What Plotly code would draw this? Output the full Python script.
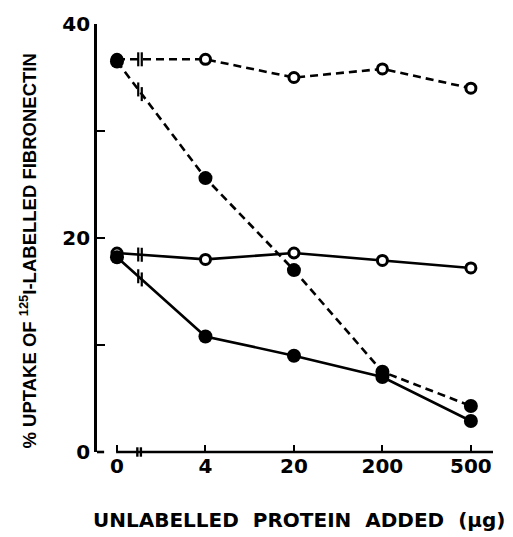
import plotly.graph_objects as go

# ---- data ----
categories = ["0", "4", "20", "200", "500"]
ctrl_open_dashed = [36.7, 36.7, 35.0, 35.8, 34.0]
test_filled_dashed = [36.5, 25.6, 17.0, 7.5, 4.3]
ctrl_open_solid = [18.6, 18.0, 18.6, 17.9, 17.2]
test_filled_solid = [18.2, 10.8, 9.0, 7.0, 2.9]
y_tickvals = [0, 20, 40]
y_ticktext = ["0", "20", "40"]
y_minor_tickvals = [10, 30]

x = list(range(len(categories)))

BLACK = "black"
fig = go.Figure()

def add_series(y, filled, dash):
    line = dict(color=BLACK, width=2.6, dash=("8px,5px" if dash else "solid"))
    if filled:
        marker = dict(symbol="circle", size=14, color=BLACK, line=dict(width=0))
    else:
        marker = dict(symbol="circle", size=10, color="white", line=dict(color=BLACK, width=3))
    fig.add_trace(go.Scatter(x=x, y=y, mode="lines+markers", line=line, marker=marker,
                             showlegend=False, hoverinfo="skip"))

# open first, filled on top (filled covers the shared starting point)
add_series(ctrl_open_dashed, False, True)
add_series(ctrl_open_solid, False, False)
add_series(test_filled_dashed, True, True)
add_series(test_filled_solid, True, False)

# break marks on the first segment of each line (derived from data)
for ys in [ctrl_open_dashed, test_filled_dashed, ctrl_open_solid, test_filled_solid]:
    bx, by = [], []
    for t in (0.24, 0.28):
        bx.append(x[0] + t * (x[1] - x[0]))
        by.append(ys[0] + t * (ys[1] - ys[0]))
    fig.add_trace(go.Scatter(x=bx, y=by, mode="markers",
                             marker=dict(symbol="line-ns", size=10,
                                         line=dict(color=BLACK, width=2.2)),
                             showlegend=False, hoverinfo="skip"))

# x axis line with break (drawn as shapes)
fig.add_shape(type="line", xref="x", yref="paper", x0=-0.01, x1=4.25, y0=0, y1=0,
              line=dict(color=BLACK, width=2.6))
for bxv in (0.23, 0.27):
    fig.add_shape(type="line", xref="x", yref="paper", x0=bxv, x1=bxv, y0=-0.011, y1=0.011,
                  line=dict(color=BLACK, width=2.4))
# foot of y axis
fig.add_shape(type="line", xref="paper", yref="paper", x0=0, x1=0.018, y0=0, y1=0,
              line=dict(color=BLACK, width=2.6))

fig.update_layout(
    width=513, height=537,
    margin=dict(l=97, r=20, t=15, b=85),
    paper_bgcolor="white", plot_bgcolor="white",
    xaxis=dict(range=[-0.226, 4.25], tickvals=x, ticktext=categories,
               ticks="inside", ticklen=7, tickwidth=2.4, tickcolor=BLACK,
               showline=False, showgrid=False, zeroline=False,
               tickfont=dict(family="DejaVu Sans", size=20, color=BLACK, weight="bold")),
    yaxis=dict(range=[0, 40], tickvals=y_tickvals, ticktext=y_ticktext,
               ticks="inside", ticklen=8, tickwidth=2.4, tickcolor=BLACK,
               minor=dict(tickvals=y_minor_tickvals, ticks="inside", ticklen=8,
                          tickwidth=2.4, tickcolor=BLACK, showgrid=False),
               showline=True, linecolor=BLACK, linewidth=2.6,
               showgrid=False, zeroline=False,
               tickfont=dict(family="DejaVu Sans", size=20, color=BLACK, weight="bold")),
)

fig.add_annotation(text="% UPTAKE OF <sup>125</sup>I-LABELLED FIBRONECTIN",
                   xref="paper", yref="paper", x=-0.175, y=0.47, textangle=-90,
                   showarrow=False, xanchor="center", yanchor="middle",
                   font=dict(family="Liberation Sans Narrow, Liberation Sans", size=18.5,
                             color=BLACK, weight="bold"))
fig.add_annotation(text="UNLABELLED  PROTEIN  ADDED  (µg)",
                   xref="paper", yref="paper", x=0.51, y=-0.16,
                   showarrow=False, xanchor="center", yanchor="middle",
                   font=dict(family="DejaVu Sans", size=20, color=BLACK, weight="bold"))

fig.write_html("out.html")
